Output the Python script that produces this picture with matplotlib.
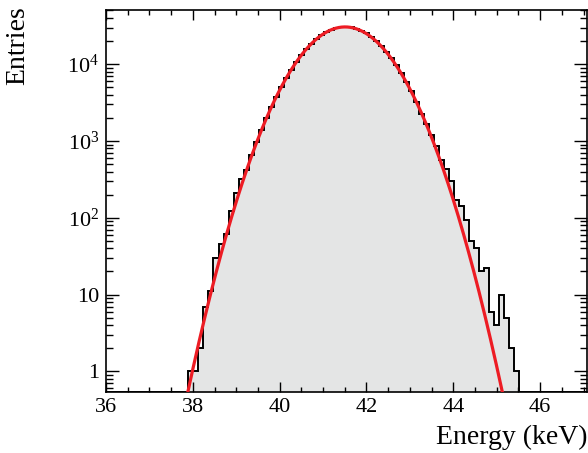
import numpy as np
import matplotlib
matplotlib.use("Agg")
import matplotlib.pyplot as plt
from matplotlib.ticker import FixedLocator, LogLocator, MultipleLocator, NullFormatter

plt.rcParams['font.family'] = ['Liberation Serif', 'DejaVu Serif']
plt.rcParams['mathtext.fontset'] = 'custom'
plt.rcParams['mathtext.rm'] = 'Liberation Serif'
plt.rcParams['mathtext.it'] = 'Liberation Serif:italic'

# histogram: regular binning, first bin edge and width in keV
energy_lo = 37.90
bin_width = 0.1152
counts = [
    1, 1, 2, 7, 11, 30, 46, 61, 121, 208,
    316, 418, 655, 960, 1390, 1980, 2760, 3780, 5040, 6580,
    8450, 10600, 13000, 15600, 18300, 21050, 23650, 26000, 27980, 29450,
    30300, 30500, 30050, 28950, 27300, 25150, 22700, 20000, 17250, 14600,
    12050, 9750, 7700, 5950, 4500, 3200, 2250, 1676, 1205, 848,
    569, 430, 303, 171, 143, 94, 50, 41, 20, 22,
    6, 4, 10, 5, 2, 1,
]

# gaussian fit result (counts per bin)
fit_amp = 30550.0
fit_mean = 41.507
fit_sigma = 0.7743

x_ticks = [36, 38, 40, 42, 44, 46]
y_ticks = [1, 10, 100, 1000, 10000]
y_ticklabels = ['1', '10', '$10^{2}$', '$10^{3}$', '$10^{4}$']

xlo, xhi = 36.0, 47.08
ylo, yhi = 0.54, 5.15e4

fig = plt.figure(figsize=(5.88, 4.53), dpi=100)
ax = fig.add_axes([0.1803, 0.1347, 0.8180, 0.8443])

edges = energy_lo + bin_width * np.arange(len(counts) + 1)
all_edges = np.concatenate([[xlo], edges, [xhi]])
vals = np.concatenate([[ylo], np.maximum(counts, ylo), [ylo]])

ax.stairs(vals, all_edges, baseline=ylo, fill=True, color='#e4e5e5', zorder=1)
ax.stairs(vals, all_edges, baseline=None, color='black', lw=1.4, zorder=2)

xf = np.linspace(37.5, 45.5, 600)
yf = fit_amp * np.exp(-0.5 * ((xf - fit_mean) / fit_sigma) ** 2)
ax.plot(xf, yf, color='#ed1c24', lw=2.3, zorder=3)

ax.set_yscale('log')
ax.set_xlim(xlo, xhi)
ax.set_ylim(ylo, yhi)

ax.xaxis.set_major_locator(FixedLocator(x_ticks))
ax.xaxis.set_minor_locator(MultipleLocator(0.5))
ax.set_xticklabels([str(t) for t in x_ticks])
ax.yaxis.set_major_locator(FixedLocator(y_ticks))
ax.set_yticklabels(y_ticklabels)
ax.yaxis.set_minor_locator(LogLocator(base=10, subs=np.arange(2, 10)))
ax.yaxis.set_minor_formatter(NullFormatter())

ax.tick_params(which='both', direction='in', top=True, right=True, width=1.0, colors='black')
ax.tick_params(axis='x', which='major', length=7, labelsize=16, pad=4)
ax.tick_params(axis='x', which='minor', length=3.6)
ax.tick_params(axis='y', which='major', length=9.5, labelsize=16, pad=5)
ax.tick_params(axis='y', which='minor', length=5)

for s in ax.spines.values():
    s.set_linewidth(1.2)

fig.text(587 / 588, 1 - 444 / 453, 'Energy (keV)', ha='right', va='baseline', fontsize=20)
fig.text(18 / 588, 1 - 6 / 453, 'Entries', ha='center', va='top', rotation=90, fontsize=20)

fig.savefig('out.png', dpi=100)
